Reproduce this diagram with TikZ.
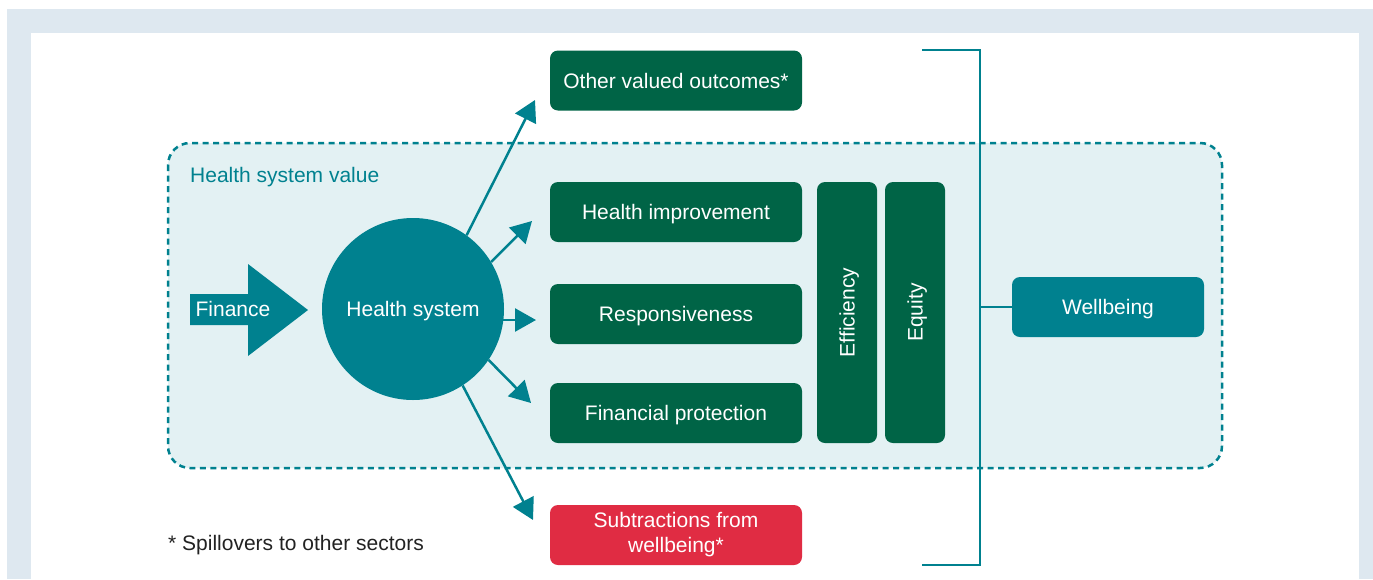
\documentclass[tikz,border=0pt]{standalone}
\usepackage{fontspec}
\setmainfont{Liberation Sans}
\usetikzlibrary{arrows.meta}
\definecolor{bgframe}{HTML}{DEE8F0}
\definecolor{teal}{HTML}{00818F}
\definecolor{dgreen}{HTML}{006446}
\definecolor{redbox}{HTML}{E02C43}
\definecolor{lightfill}{HTML}{E3F1F3}
\definecolor{txtdark}{HTML}{222222}
\tikzset{
  lbl/.style={font=\fontsize{21}{25}\selectfont},
  box/.style={rounded corners=8pt, fill=dgreen, text=white, minimum width=252pt, minimum height=60pt, inner sep=0pt, lbl, align=center, text height=15pt, text depth=0pt},
  vbox/.style={rounded corners=8pt, fill=dgreen, text=white, minimum width=261pt, minimum height=60pt, inner sep=0pt, lbl, rotate=90, text height=15pt, text depth=0pt},
  flow/.style={draw=teal, line width=2.5pt, -{Triangle[length=21pt, width=23pt]}},
  brk/.style={draw=teal, line width=2.4pt}
}
\begin{document}
\begin{tikzpicture}[x=1pt, y=-1pt]
\useasboundingbox (0,0) rectangle (1373,579);
\fill[white] (0,0) rectangle (1373,579);
\fill[bgframe] (7,9) rectangle (1373,579);
\fill[white] (31,33) rectangle (1359,579);

% health system value region
\draw[draw=teal, fill=lightfill, line width=2.5pt, dash pattern=on 6pt off 4.5pt, rounded corners=22pt] (168,143) rectangle (1222,468);
\node[anchor=base west, text=teal, lbl, inner sep=0pt] (hsv) at (190,182.5) {Health system value};

% bracket
\coordinate (bt1) at (922,50);
\coordinate (bt2) at (980,50);
\coordinate (bb2) at (980,565);
\coordinate (bb1) at (922,565);
\draw[brk] (bt1) -- (bt2) -- (bb2) -- (bb1);

% finance arrow
\fill[teal] (190,294) -- (248,294) -- (248,264) -- (308,310) -- (248,356) -- (248,325) -- (190,325) -- cycle;
\node[text=white, lbl, inner sep=0pt, text height=15pt, text depth=0pt] (fin) at (233,309) {Finance};

% boxes
\node[box] (ovo) at (676,80.5) {Other valued outcomes*};
\node[box] (hi) at (676,212) {Health improvement};
\node[box] (resp) at (676,314) {Responsiveness};
\node[box] (fp) at (676,413) {Financial protection};
\node[box, fill=redbox, text height=, text depth=] (sub) at (676,535) {Subtractions from\\wellbeing*};
\node[vbox] (eff) at (847,312.5) {Efficiency};
\node[vbox] (eq) at (915,312.5) {Equity};
\node[box, fill=teal, minimum width=192pt] (wb) at (1108,307) {Wellbeing};
\draw[brk] (wb.west) -- (wb.west -| bt2);

% health system circle
\node[circle, fill=teal, minimum size=182pt, inner sep=0pt, text=white, lbl, text height=15pt, text depth=0pt] (hs) at (413,309) {Health system};

% arrows
\coordinate (t1) at (535,100);
\coordinate (t2) at (532,221);
\coordinate (t3) at (536,320);
\coordinate (t4) at (531,403);
\coordinate (t5) at (533,520);
\draw[flow] (hs.54) -- (t1);
\draw[flow] (hs.31) -- (t2);
\draw[flow] ([xshift=80pt]t3 -| hs.center) -- (t3);
\draw[flow] (hs.-34) -- (t4);
\draw[flow] (hs.-57) -- (t5);

\node[anchor=base west, text=txtdark, lbl, inner sep=0pt] (note) at (168,550.5) {* Spillovers to other sectors};
\end{tikzpicture}
\end{document}
